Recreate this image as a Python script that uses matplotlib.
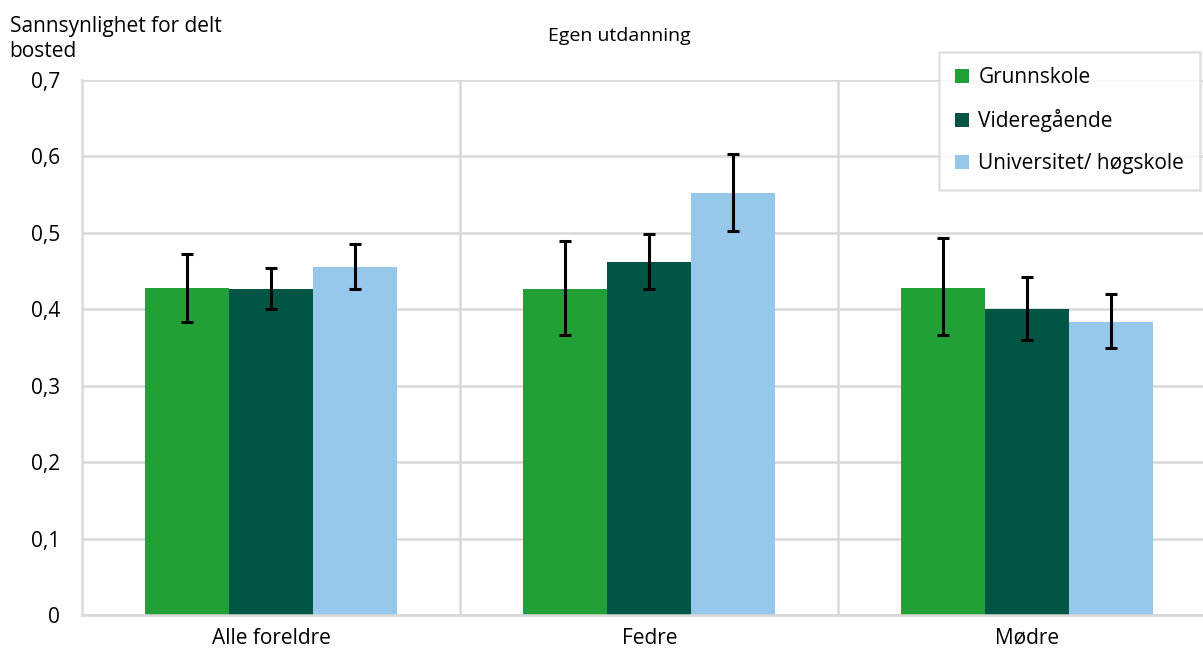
import matplotlib.pyplot as plt
import numpy as np

plt.rcParams['font.family'] = ['Open Sans', 'DejaVu Sans']

# data
groups = ['Alle foreldre', 'Fedre', 'Mødre']
series = ['Grunnskole', 'Videregående', 'Universitet/ høgskole']
colors = ['#21a038', '#005544', '#96c8ec']
values = [
    [0.428, 0.427, 0.428],
    [0.426, 0.462, 0.400],
    [0.455, 0.552, 0.384],
]
err_low = [
    [0.384, 0.367, 0.366],
    [0.400, 0.427, 0.360],
    [0.426, 0.503, 0.350],
]
err_high = [
    [0.473, 0.489, 0.493],
    [0.454, 0.499, 0.442],
    [0.486, 0.603, 0.420],
]

fig = plt.figure(figsize=(12.03, 6.48), dpi=100)
ax = fig.add_axes([0.0682, 0.0509, 0.943, 0.8256])

x = np.arange(len(groups))
w = 0.222
for i, name in enumerate(series):
    v = np.array(values[i])
    lo = v - np.array(err_low[i])
    hi = np.array(err_high[i]) - v
    ax.bar(x + (i - 1) * w, v, w, color=colors[i], label=name, zorder=2)
    ax.errorbar(x + (i - 1) * w, v, yerr=[lo, hi], fmt='none', ecolor='black',
                elinewidth=2.2, capsize=4.5, capthick=2.2, zorder=3)

fs = 15
ax.set_xlim(-0.5, 2.5)
ax.set_ylim(0, 0.7)
ax.set_yticks(np.arange(0, 0.71, 0.1))
ax.set_yticklabels(['0', '0,1', '0,2', '0,3', '0,4', '0,5', '0,6', '0,7'], fontsize=fs)
ax.set_xticks(x)
ax.set_xticklabels(groups, fontsize=fs)
ax.set_xticks([0.5, 1.5], minor=True)
ax.tick_params(axis='both', which='both', length=0)
ax.tick_params(axis='y', pad=16)
ax.tick_params(axis='x', pad=9)
ax.grid(axis='y', color='#d9d9d9', linewidth=1.8, zorder=0)
ax.grid(axis='x', which='minor', color='#d9d9d9', linewidth=1.8, zorder=0)
ax.grid(axis='x', which='major', visible=False)
for s in ['top', 'right']:
    ax.spines[s].set_visible(False)
for s in ['left', 'bottom']:
    ax.spines[s].set_color('#d9d9d9')
    ax.spines[s].set_linewidth(1.8)

fig.text(0.008, 0.975, 'Sannsynlighet for delt\nbosted', fontsize=fs,
         va='top', ha='left', linespacing=1.25)
fig.text(0.5145, 0.945, 'Egen utdanning', fontsize=14, ha='center', va='center')

leg = ax.legend(loc='upper right', bbox_to_anchor=(0.9975, 0.92),
                bbox_transform=fig.transFigure, fontsize=fs, frameon=True,
                fancybox=False, handlelength=0.7, handleheight=0.7,
                handletextpad=0.45, labelspacing=1.0, borderpad=0.75,
                borderaxespad=0)
leg.get_frame().set_edgecolor('#d9d9d9')
leg.get_frame().set_linewidth(1.8)
# widen the box a little to the left, like the reference
fig.canvas.draw()
bb = leg.get_frame().get_bbox()
leg.get_frame().set_bounds(bb.x0 - 10, bb.y0, bb.width + 10, bb.height)

fig.savefig('out.png', dpi=100)
